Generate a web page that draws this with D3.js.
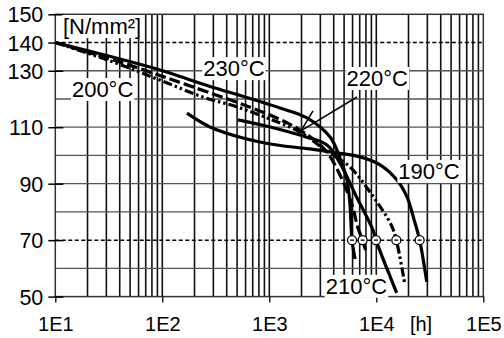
<!DOCTYPE html>
<html>
<head>
<meta charset="utf-8">
<script src="https://cdn.jsdelivr.net/npm/d3@7"></script>
<style>
  body { margin: 0; background: #fff; }
  svg { display: block; }
  text { font-family: "Liberation Sans", Arial, Helvetica, sans-serif; fill: #000; }
</style>
</head>
<body>
<svg id="chart" width="504" height="338"></svg>
<script>
// Creep rupture curves: stress [N/mm²] versus time to failure [h], log time axis.

// 230 °C, solid
const hours230  = [10, 95, 225, 1260, 2250, 3700, 4580, 5320, 5680, 5930, 6330];
const stress230 = [140, 130.3, 125.6, 116.8, 113.3, 106.5, 99.1, 91.3, 82.5, 70, 63.3];

// 220 °C, dashed
const hours220  = [10, 40, 170, 1016, 1936, 3316, 4580, 5930, 6740, 7450, 8020];
const stress220 = [140, 133.1, 125.0, 114.3, 109.0, 102.0, 93.1, 82.5, 74.3, 70, 65.8];

// 210 °C, solid
const hours210  = [510, 1016, 2065, 3460, 4580, 6325, 9300, 9930, 15500];
const stress210 = [112.6, 110.1, 106.9, 103.7, 97.3, 86.4, 73.6, 70, 51.3];

// 200 °C, dash-dot-dot
const hours200  = [10, 32, 95, 240, 499, 1016, 1936, 3316, 5680, 9520, 13780, 15380, 18530];
const stress200 = [140, 133.6, 126.7, 120.7, 117.2, 112.9, 108.3, 102.0, 95.9, 85.0, 75.4, 70, 54.1];

// 190 °C, solid
const hours190  = [170, 279, 568, 1180, 2400, 4300, 7050, 10840, 15600, 19360, 22600, 25400, 29600];
const stress190 = [115.0, 110.1, 106.2, 103.7, 102.3, 100.9, 99.5, 96.7, 91.3, 85.3, 77.1, 70, 55.3];

// Rupture markers on the 70 N/mm² line
const markerHours  = [5930, 7450, 9930, 15380, 25400];
const markerStress = 70;

// Axis ticks
const xTickValues = [1e1, 1e2, 1e3, 1e4, 1e5];
const xTickLabels = ["1E1", "1E2", "1E3", "1E4", "1E5"];
const yTickValues = [50, 70, 90, 110, 130, 140, 150];
const yGridValues = [60, 80, 90, 100, 110, 120, 130];
const dashedLevels = [140, 70];

// Curve labels: text, anchor time, anchor stress
const labelTexts  = ["230°C", "220°C", "210°C", "200°C", "190°C"];
const labelHours  = [241, 5280, 3365, 14.3, 16070];
const labelStress = [128.1, 124.6, 51.0, 120.7, 91.7];

// Pointer from the 220 °C label to its curve
const pointerHours  = [6600, 1977, 2560];
const pointerStress = [120.7, 108.7, 115.8];

const width = 504, height = 338;
const svg = d3.select("#chart");

const x = d3.scaleLog().domain([1e1, 1e5]).range([55.3, 483.3]);
const y = d3.scaleLinear().domain([50, 150]).range([296.6, 14.3]);

const [x0, x1] = x.range();
const [yb, yt] = y.range();

// Vertical log grid
const vGrid = [];
for (let e = 1; e <= 4; e++) {
  for (let k = 1; k <= 9; k++) {
    const v = k * Math.pow(10, e);
    if (v > 1e1 && v < 1e5) vGrid.push(v);
  }
}
svg.append("g").selectAll("line").data(vGrid).join("line")
  .attr("x1", d => x(d)).attr("x2", d => x(d))
  .attr("y1", yt).attr("y2", yb)
  .attr("stroke", "#111").attr("stroke-width", 1.6);

// Horizontal grid
svg.append("g").selectAll("line").data(yGridValues.filter(v => !dashedLevels.includes(v))).join("line")
  .attr("x1", x0).attr("x2", x1)
  .attr("y1", d => y(d)).attr("y2", d => y(d))
  .attr("stroke", "#555").attr("stroke-width", 1.3);

svg.append("g").selectAll("line").data(dashedLevels).join("line")
  .attr("x1", x0).attr("x2", x1)
  .attr("y1", d => y(d)).attr("y2", d => y(d))
  .attr("stroke", "#000").attr("stroke-width", 1.5)
  .attr("stroke-dasharray", "4,2.5");

// Plot frame
svg.append("rect")
  .attr("x", x0).attr("y", yt)
  .attr("width", x1 - x0).attr("height", yb - yt)
  .attr("fill", "none").attr("stroke", "#333").attr("stroke-width", 1.5);

// Y axis ticks and labels
const yAxis = d3.axisLeft(y).tickValues(yTickValues).tickSize(7).tickPadding(5);
const gy = svg.append("g").attr("transform", `translate(${x0},0)`).call(yAxis);
gy.select(".domain").remove();
gy.selectAll(".tick line").attr("x2", -7).attr("x1", 8).attr("stroke", "#000").attr("stroke-width", 1.5);
gy.selectAll(".tick text").attr("font-size", 21.5).attr("dy", "0.35em")
  .style("font-family", '"Liberation Sans", Arial, sans-serif');

// X axis ticks and labels
const xAxis = d3.axisBottom(x).tickValues(xTickValues)
  .tickFormat((d, i) => xTickLabels[i]).tickSize(6).tickPadding(14);
const gx = svg.append("g").attr("transform", `translate(0,${yb})`).call(xAxis);
gx.select(".domain").remove();
gx.selectAll(".tick line").attr("stroke", "#000").attr("stroke-width", 1.3);
gx.selectAll(".tick text").attr("font-size", 20).attr("dy", "0.71em")
  .style("font-family", '"Liberation Sans", Arial, sans-serif');

// Curves
const line = d3.line()
  .x(d => x(d[0])).y(d => y(d[1]))
  .curve(d3.curveCatmullRom.alpha(0.5));

const series = [
  { h: hours200, s: stress200, dash: "9,3,2.5,3,2.5,3" },
  { h: hours190, s: stress190, dash: null },
  { h: hours210, s: stress210, dash: null },
  { h: hours220, s: stress220, dash: "11,4" },
  { h: hours230, s: stress230, dash: null }
];

svg.append("g").selectAll("path").data(series).join("path")
  .attr("d", d => line(d.h.map((h, i) => [h, d.s[i]])))
  .attr("fill", "none").attr("stroke", "#000").attr("stroke-width", 3.2)
  .attr("stroke-linejoin", "round")
  .attr("stroke-dasharray", d => d.dash);

// Rupture markers
const mk = svg.append("g").selectAll("g").data(markerHours).join("g")
  .attr("transform", d => `translate(${x(d)},${y(markerStress)})`);
mk.append("circle").attr("r", 4.5).attr("fill", "#fff").attr("stroke", "#000").attr("stroke-width", 1.3);
mk.append("line").attr("x1", -2).attr("x2", 2).attr("stroke", "#000").attr("stroke-width", 1.3);

// Pointer to the 220 °C curve
const pp = pointerHours.map((h, i) => [x(h), y(pointerStress[i])]);
svg.append("path")
  .attr("d", `M${pp[0][0]},${pp[0][1]}L${pp[1][0]},${pp[1][1]}L${pp[2][0]},${pp[2][1]}`)
  .attr("fill", "none").attr("stroke", "#000").attr("stroke-width", 1.5);

// Labels with white backing
function boxedText(txt, px, py, size, anchor) {
  const g = svg.append("g");
  const t = g.append("text").attr("x", px).attr("y", py)
    .attr("font-size", size).attr("text-anchor", anchor || "start").text(txt);
  const b = t.node().getBBox();
  g.insert("rect", "text")
    .attr("x", b.x - 1).attr("y", b.y + 1)
    .attr("width", b.width + 2).attr("height", b.height - 2)
    .attr("fill", "#fff");
  return g;
}

labelTexts.forEach((t, i) => boxedText(t, x(labelHours[i]), y(labelStress[i]), 22));
boxedText("[N/mm²]", x(11.8), y(143.0), 22);

svg.append("text").attr("x", x(26200)).attr("y", 331)
  .attr("font-size", 20).attr("text-anchor", "middle").text("[h]");
</script>
</body>
</html>
